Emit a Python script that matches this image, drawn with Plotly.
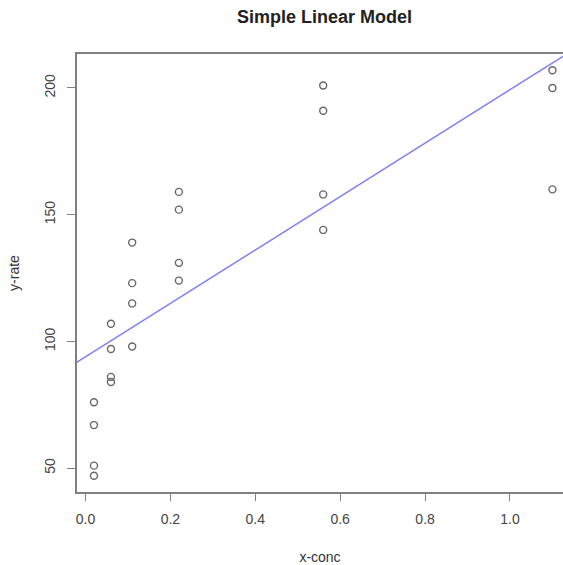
import numpy as np
import plotly.graph_objects as go

conc = [0.02, 0.02, 0.06, 0.06, 0.11, 0.11, 0.22, 0.22, 0.56, 0.56, 1.10, 1.10,
        0.02, 0.02, 0.06, 0.06, 0.11, 0.11, 0.22, 0.22, 0.56, 0.56, 1.10]
rate = [76, 47, 97, 107, 123, 139, 159, 152, 191, 201, 207, 200,
        67, 51, 84, 86, 98, 115, 131, 124, 144, 158, 160]
x_ticks = [0.0, 0.2, 0.4, 0.6, 0.8, 1.0]
x_tick_labels = ["0.0", "0.2", "0.4", "0.6", "0.8", "1.0"]
y_ticks = [50, 100, 150, 200]

slope, intercept = np.polyfit(conc, rate, 1)
x_range = [-0.02, 1.1249]
y_range = [40.6, 213.4]
line_x = [-0.2, 1.4]
line_y = [intercept + slope * v for v in line_x]

fig = go.Figure()
fig.add_trace(go.Scatter(x=line_x, y=line_y, mode="lines",
                         line=dict(color="#7f7ff2", width=1.5), showlegend=False,
                         hoverinfo="skip"))
fig.add_trace(go.Scatter(x=conc, y=rate, mode="markers",
                         marker=dict(symbol="circle-open", size=7, color="#666666",
                                     line=dict(width=1.4, color="#666666")),
                         showlegend=False))

FONT = "Liberation Sans, Arial, sans-serif"
axis_font = dict(family=FONT, size=14, color="#444444")
W, H = 563, 565
fig.update_layout(
    width=W, height=H,
    margin=dict(l=77, r=0, t=54, b=73),
    paper_bgcolor="white", plot_bgcolor="white",
    title=dict(text="<b>Simple Linear Model</b>", x=(77 + 572) / 2 / W, xanchor="center",
               y=1 - 17 / H, yanchor="middle",
               font=dict(family=FONT, size=18, color="#222222")),
    xaxis=dict(range=x_range, tickvals=x_ticks, ticktext=x_tick_labels,
               showgrid=False, zeroline=False, showline=True, linecolor="#808080",
               linewidth=1.5, mirror=True, ticks="outside", ticklen=7, tickwidth=1.3,
               tickcolor="#808080", tickfont=axis_font, ticklabelstandoff=6,
               title=dict(text="x-conc", font=dict(family=FONT, size=14, color="#333333"),
                          standoff=27)),
    yaxis=dict(range=y_range, tickvals=y_ticks,
               showgrid=False, zeroline=False, showline=True, linecolor="#808080",
               linewidth=1.5, mirror=False, ticks="outside", ticklen=8, tickwidth=1.3,
               tickcolor="#808080", tickfont=axis_font, tickangle=-90, ticklabelstandoff=7,
               title=dict(text="y-rate", font=dict(family=FONT, size=14, color="#333333"),
                          standoff=19)),
    font=dict(family=FONT),
)
fig.write_html("out.html", config={"displayModeBar": False},
               post_script="document.body.style.margin='0';document.body.style.overflow='hidden';")
